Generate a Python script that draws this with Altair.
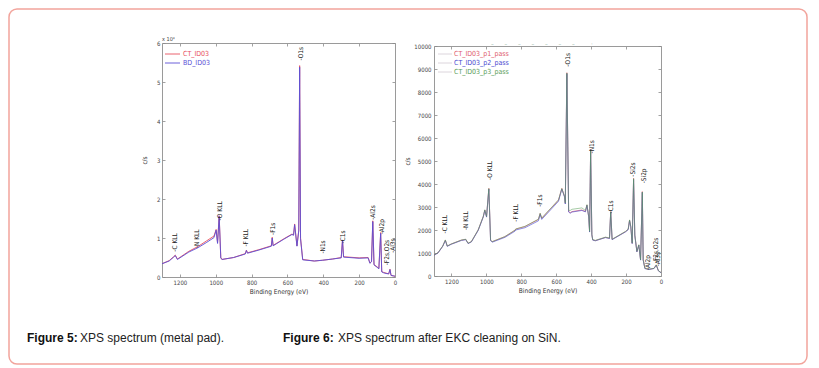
import altair as alt
import pandas as pd

# ---------------- Figure 5: XPS spectrum (metal pad) ----------------
f5_series = ["CT_ID03", "BD_ID03"]
f5_colors = ["#e8505e", "#5b4fd6"]
f5_be = [1300, 1260, 1235, 1226, 1214, 1150, 1100, 1050, 1010, 998,
         990, 981, 972, 965, 900, 835, 829, 823, 760, 690,
         685, 680, 620, 575, 566, 560, 547, 537, 532, 527,
         515, 450, 403, 350, 300, 293, 287, 200, 150, 140,
         131, 124, 117, 100, 90, 80, 74, 65, 50, 35,
         28, 22, 10, 0]
f5_ct = [0.34, 0.42, 0.52, 0.56, 0.46, 0.66, 0.78, 0.93, 1.05, 1.22,
         0.88, 1.57, 0.50, 0.45, 0.50, 0.60, 0.69, 0.62, 0.70, 0.80,
         1.02, 0.81, 0.98, 1.10, 1.08, 1.36, 0.80, 1.20, 5.42, 1.00,
         0.45, 0.41, 0.43, 0.46, 0.50, 0.95, 0.52, 0.49, 0.50, 0.36,
         0.40, 1.44, 0.32, 0.26, 0.22, 1.14, 0.14, 0.12, 0.10, 0.08,
         0.20, 0.04, 0.03, 0.02]
f5_bd = [0.34, 0.41, 0.51, 0.55, 0.45, 0.64, 0.75, 0.89, 1.01, 1.20,
         0.86, 1.55, 0.48, 0.45, 0.50, 0.59, 0.68, 0.61, 0.69, 0.79,
         1.00, 0.80, 0.97, 1.09, 1.07, 1.34, 0.79, 1.18, 5.38, 0.98,
         0.44, 0.41, 0.43, 0.46, 0.49, 0.94, 0.51, 0.48, 0.49, 0.35,
         0.39, 1.42, 0.31, 0.25, 0.21, 1.12, 0.13, 0.11, 0.09, 0.08,
         0.19, 0.04, 0.03, 0.02]
f5_peak_names = ["-C KLL", "-N KLL", "-O KLL", "-F KLL", "-F1s", "-O1s", "-N1s",
                 "-C1s", "-Al2s", "-Al2p", "-F2s,O2s", "-Al3s"]
f5_peak_be = [1225, 1104, 974, 829, 683, 525, 403, 288, 120, 74, 43, 13]
f5_peak_y = [0.65, 0.74, 1.45, 0.78, 1.08, 5.55, 0.60, 0.86, 1.47, 1.10, 0.30, 0.62]
f5_yticks = [0, 1, 2, 3, 4, 5, 6]

# ---------------- Figure 6: XPS spectrum after EKC cleaning on SiN ----------------
f6_series = ["CT_ID03_p1_pass", "CT_ID03_p2_pass", "CT_ID03_p3_pass"]
f6_colors = ["#e0606e", "#4a4ad0", "#5a9e5a"]
f6_be = [1300, 1277, 1250, 1235, 1224, 1201, 1143, 1118, 1105, 1086,
         1047, 1018, 1009, 999, 986, 976, 967, 894, 836, 832,
         779, 702, 692, 683, 587, 568, 552, 548, 539, 529,
         520, 510, 453, 433, 424, 414, 409, 403, 396, 391,
         376, 318, 295, 288, 280, 203, 188, 180, 173, 165,
         157, 150, 138, 127, 117, 107, 102, 92, 69, 40,
         27, 15, 0]
f6_p1 = [910, 1010, 1300, 1560, 1300, 1390, 1560, 1590, 1420, 1490,
         2000, 2580, 2870, 2580, 3810, 1560, 1490, 1710, 1990, 2040,
         2150, 2460, 2720, 2510, 3300, 3810, 3450, 3160, 8840, 2800,
         2750, 2800, 2870, 2800, 3090, 2580, 1930, 5500, 1800, 1570,
         1540, 1680, 1640, 2800, 1590, 1930, 2030, 2430, 2150, 1420,
         4250, 1780, 1060, 1350, 700, 3670, 700, 330, 290, 330,
         480, 230, 145]
f6_p2 = [905, 1000, 1290, 1540, 1290, 1380, 1545, 1580, 1410, 1480,
         1980, 2560, 2850, 2560, 3780, 1540, 1470, 1680, 1950, 2000,
         2100, 2400, 2680, 2460, 3250, 3780, 3420, 3130, 8800, 2780,
         2730, 2780, 2850, 2790, 3070, 2560, 1910, 5450, 1790, 1560,
         1530, 1670, 1630, 2780, 1580, 1920, 2010, 2410, 2130, 1410,
         4200, 1760, 1050, 1340, 690, 3640, 690, 320, 285, 325,
         470, 225, 140]
f6_p3 = [915, 1015, 1305, 1570, 1305, 1395, 1565, 1600, 1425, 1495,
         2010, 2590, 2880, 2590, 3800, 1570, 1495, 1715, 1995, 2045,
         2160, 2470, 2730, 2520, 3310, 3800, 3460, 3170, 8820, 2850,
         2850, 2900, 2960, 2850, 3100, 2590, 1940, 5480, 1810, 1580,
         1550, 1690, 1650, 2790, 1600, 1940, 2040, 2440, 2160, 1430,
         4230, 1790, 1070, 1360, 710, 3650, 710, 335, 295, 335,
         485, 235, 150]
f6_peak_names = ["-C KLL", "-N KLL", "-O KLL", "-F KLL", "-F1s", "-O1s", "-N1s",
                 "-C1s", "-Si2s", "-Si2p", "-Al2p", "-F2s,O2s", "-Al3s"]
f6_peak_be = [1235, 1118, 980, 832, 692, 533, 395, 284, 161, 100, 72, 30, 15]
f6_peak_y = [1850, 2000, 4170, 2360, 3010, 9100, 5330, 2720, 4320, 4030, 260, 560, 420]
f6_yticks = [0, 1000, 2000, 3000, 4000, 5000, 6000, 7000, 8000, 9000, 10000]

x_ticks = [1200, 1000, 800, 600, 400, 200, 0]
x_title = "Binding Energy (eV)"
y_title = "c/s"
captions_bold = ["Figure 5:", "Figure 6:"]
captions_text = ["XPS spectrum (metal pad).", "XPS spectrum after EKC cleaning on SiN."]

# ---------------- layout / style ----------------
FONT = "Liberation Sans Narrow, DejaVu Sans Condensed, Liberation Sans, Arial, sans-serif"
CAP_FONT = "Liberation Sans, Arial, Helvetica, sans-serif"
W, H = 798, 355
L_X, L_Y = [153, 386], [268, 34]
R_X, R_Y = [425, 652], [267, 37]
AX_GRAY = "#9a9a9a"


def xs(rng):
    return alt.Scale(domain=[1300, 0], range=rng, nice=False, zero=False)


def ys(dom, rng):
    return alt.Scale(domain=dom, range=rng, nice=False, zero=False)


def axis_main(orient, offset, values, title, title_pad, label_pad):
    return alt.Axis(orient=orient, offset=offset, values=values, title=title, format="d",
                    ticks=False, domain=True, domainColor=AX_GRAY, domainWidth=1,
                    labelFont=FONT, labelFontSize=6, labelColor="#444",
                    labelPadding=label_pad, labelFlush=False, labelOverlap=False,
                    titleFont=FONT, titleFontSize=6.5, titleFontWeight="normal",
                    titleColor="#333", titlePadding=title_pad, grid=False)


def axis_tick(orient, offset, values, domain):
    return alt.Axis(orient=orient, offset=offset, values=values, labels=False, title="",
                    ticks=True, tickSize=3, tickColor="#8a8a8a", tickWidth=0.8,
                    domain=domain, domainColor=AX_GRAY, domainWidth=1, grid=False)


def line_layer(be, vals, color, xscale, yscale, xaxis, yaxis, width=0.9, opacity=1.0):
    df = pd.DataFrame({"be": be, "cps": vals})
    return alt.Chart(df).mark_line(color=color, strokeWidth=width, opacity=opacity).encode(
        x=alt.X("be:Q", scale=xscale, axis=xaxis),
        y=alt.Y("cps:Q", scale=yscale, axis=yaxis),
    )


def peak_layer(names, be, yv, xscale, yscale, xaxis, yaxis):
    df = pd.DataFrame({"name": names, "be": be, "y": yv})
    return alt.Chart(df).mark_text(angle=270, align="left", baseline="middle",
                                   font=FONT, fontSize=6.5, color="#222").encode(
        x=alt.X("be:Q", scale=xscale, axis=xaxis),
        y=alt.Y("y:Q", scale=yscale, axis=yaxis),
        text="name:N",
    )


one = pd.DataFrame({"k": [0]})


def deco_text(text, x, y, size, color, font=FONT, weight="normal", align="left", baseline="middle"):
    return alt.Chart(one).mark_text(font=font, fontSize=size, color=color, fontWeight=weight,
                                    align=align, baseline=baseline).encode(
        x=alt.value(x), y=alt.value(y), text=alt.value(text))


def deco_rule(x1, x2, y, color):
    return alt.Chart(one).mark_rule(color=color, strokeWidth=0.9).encode(
        x=alt.value(x1), x2=alt.value(x2), y=alt.value(y))


layers = []

# ----- left panel (Figure 5) -----
f5_ymax = [0, 6]
layers.append(line_layer(f5_be, f5_ct, f5_colors[0], xs(L_X), ys(f5_ymax, L_Y),
                         axis_main("bottom", L_Y[0] - H, x_ticks, x_title, 3, 2),
                         axis_main("left", -L_X[0], f5_yticks, y_title, 9, 2)))
layers.append(line_layer(f5_be, f5_bd, f5_colors[1], xs(L_X), ys(f5_ymax, L_Y),
                         axis_tick("bottom", L_Y[1] - H, x_ticks, True),
                         axis_tick("left", -L_X[1], f5_yticks, True)))
layers.append(peak_layer(f5_peak_names, f5_peak_be, f5_peak_y, xs(L_X), ys(f5_ymax, L_Y),
                         axis_tick("top", -L_Y[0], x_ticks, False),
                         axis_tick("right", L_X[0] - W, f5_yticks, False)))
layers.append(deco_text("x 10\u2074", L_X[0], L_Y[1] - 4, 5.5, "#444"))
for i, (name, col) in enumerate(zip(f5_series, f5_colors)):
    yy = 45 + 9 * i
    layers.append(deco_rule(156, 171, yy, col))
    layers.append(deco_text(name, 174, yy, 7, col))

# ----- right panel (Figure 6) -----
f6_ymax = [0, 10000]
layers.append(line_layer(f6_be, f6_p1, f6_colors[0], xs(R_X), ys(f6_ymax, R_Y),
                         axis_main("bottom", R_Y[0] - H, x_ticks, x_title, 3, 2),
                         axis_main("left", -R_X[0], f6_yticks, y_title, 3, 3), opacity=0.8))
layers.append(line_layer(f6_be, f6_p2, f6_colors[1], xs(R_X), ys(f6_ymax, R_Y),
                         axis_tick("bottom", R_Y[1] - H, x_ticks, True),
                         axis_tick("left", -R_X[1], f6_yticks, True), opacity=0.7))
layers.append(line_layer(f6_be, f6_p3, f6_colors[2], xs(R_X), ys(f6_ymax, R_Y),
                         None, None, opacity=0.6))
layers.append(peak_layer(f6_peak_names, f6_peak_be, f6_peak_y, xs(R_X), ys(f6_ymax, R_Y),
                         axis_tick("top", -R_Y[0], x_ticks, False),
                         axis_tick("right", R_X[0] - W, f6_yticks, False)))
for i, (name, col) in enumerate(zip(f6_series, f6_colors)):
    yy = 45 + 9 * i
    layers.append(deco_rule(429, 443, yy, "#d8d0d8"))
    layers.append(deco_text(name, 445, yy, 7, col))
layers.append(deco_text("\u2013\u2003\u2003\u2013\u2003\u2003\u2013\u2003\u2003\u2013\u2003\u2003"
                        "\u2013\u2003\u2003\u2013\u2003\u2003\u2013\u2003\u2003\u2003\u00b7",
                        482, 35, 6, "#8fb3a0"))

# ----- captions -----
cap_x_bold = [18, 274]
cap_x_text = [71, 329]
for i in range(2):
    layers.append(deco_text(captions_bold[i], cap_x_bold[i], 333, 12, "#111", font=CAP_FONT,
                            weight="bold", baseline="alphabetic"))
    layers.append(deco_text(captions_text[i], cap_x_text[i], 333, 12, "#222", font=CAP_FONT,
                            baseline="alphabetic"))

chart = alt.layer(*layers).resolve_scale(x="independent", y="independent").properties(
    width=W, height=H, autosize=alt.AutoSizeParams(type="none"), padding=1,
    background="white",
).configure_view(stroke="#f2a49c", strokeWidth=1.5, cornerRadius=8)

chart.save("out.html", embed_options={"renderer": "svg", "actions": False})
